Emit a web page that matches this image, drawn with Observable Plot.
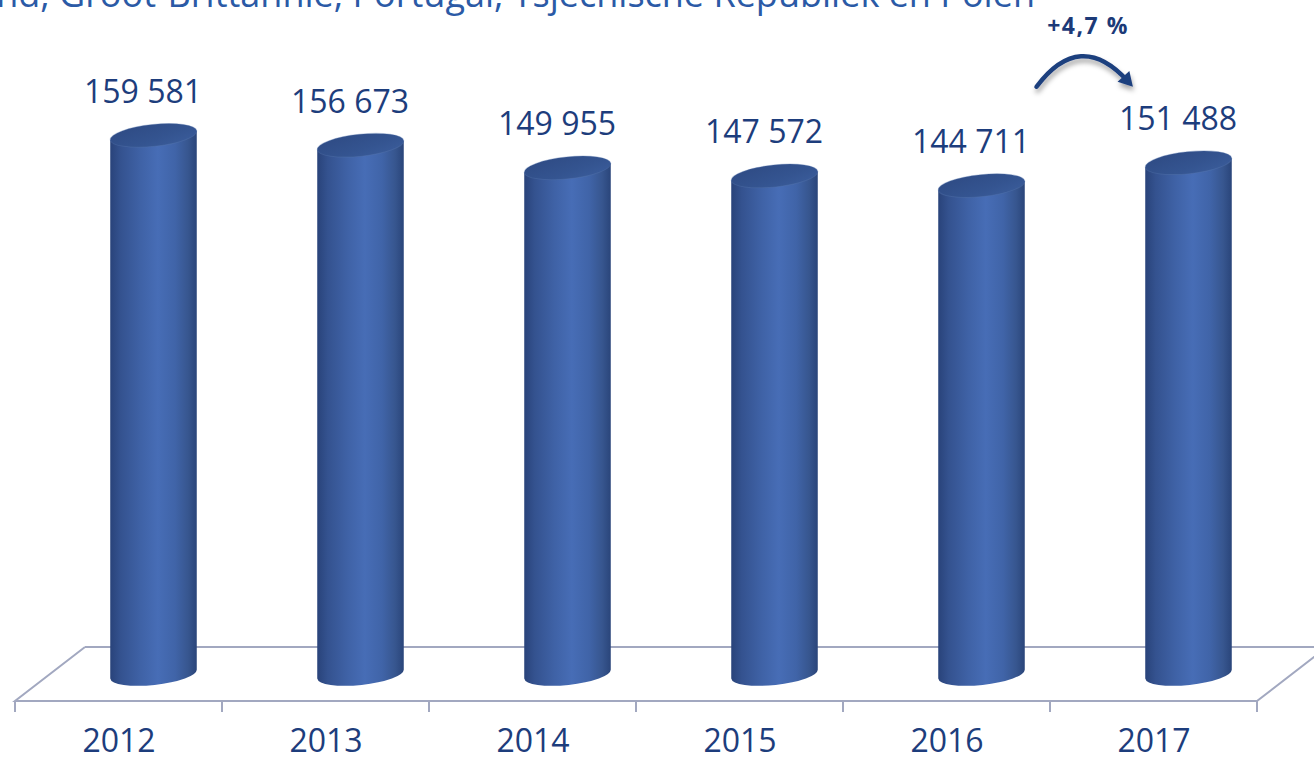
<!DOCTYPE html>
<html><head><meta charset="utf-8">
<script src="https://cdn.jsdelivr.net/npm/d3@7"></script>
<script src="https://cdn.jsdelivr.net/npm/@observablehq/plot@0.6"></script>
<style>
html,body{margin:0;padding:0;background:#fff;overflow:hidden;}
#wrap{position:relative;width:1314px;height:758px;overflow:hidden;background:#fff;}
#title{position:absolute;right:279px;top:-24px;font-family:"Open Sans",sans-serif;font-size:36px;line-height:36px;color:#2b5aa6;white-space:nowrap;z-index:2;}
#chart{position:absolute;left:0;top:0;z-index:1;}
</style></head>
<body><div id="wrap"><div id="chart"></div><div id="title"></div></div>
<script>
const years = ["2012", "2013", "2014", "2015", "2016", "2017"];
const visitors = [159581, 156673, 149955, 147572, 144711, 151488];
const growthLabel = "+4,7 %";
const titleText = "Nederland, Groot-Brittannië, Portugal, Tsjechische Republiek en Polen";

const data = years.map((year, i) => ({year, value: visitors[i]}));
const fmt = v => d3.format(",")(v).replace(/,/g, " ");
document.getElementById("title").textContent = titleText;

const labelColor = "#1d3d7c";
const floorColor = "#a2a8c0";
const depthX = 70, depthY = 54;

function defsMark() {
  const g = d3.create("svg:defs");
  const body = g.append("linearGradient").attr("id", "cylBody").attr("x1", 0).attr("x2", 1).attr("y1", 0).attr("y2", 0);
  [[0, "#29437a"], [0.12, "#34528f"], [0.35, "#3f62a6"], [0.55, "#476db6"], [0.75, "#4064a8"], [0.9, "#37568f"], [1, "#2a457a"]]
    .forEach(([o, c]) => body.append("stop").attr("offset", o).attr("stop-color", c));
  const top = g.append("linearGradient").attr("id", "cylTop").attr("x1", 0).attr("x2", 1).attr("y1", 0).attr("y2", 1);
  [[0, "#2e4a83"], [0.6, "#345490"], [1, "#3b5d9c"]]
    .forEach(([o, c]) => top.append("stop").attr("offset", o).attr("stop-color", c));
  const f = g.append("filter").attr("id", "arrowShadow").attr("x", "-30%").attr("y", "-30%").attr("width", "160%").attr("height", "180%");
  f.append("feDropShadow").attr("dx", 1).attr("dy", 4).attr("stdDeviation", 2.5).attr("flood-color", "#000").attr("flood-opacity", 0.35);
  return g.node();
}

function floorMark(index, scales) {
  const {x, y} = scales;
  const step = x(years[1]) - x(years[0]);
  const left = x(years[0]);
  const right = x(years[years.length - 1]) + step;
  const base = y(0);
  const yFront = base + depthY / 2, yBack = base - depthY / 2;
  const g = d3.create("svg:g").attr("stroke", floorColor).attr("stroke-width", 2).attr("fill", "none");
  g.append("path").attr("d", `M${left + depthX},${yBack}L${right + depthX + 60},${yBack}`);
  g.append("path").attr("d", `M${left + depthX},${yBack}L${left},${yFront}L${right},${yFront}L${right + depthX},${yBack}`);
  const bounds = years.map(yr => x(yr)).concat([right]);
  bounds.forEach(bx => g.append("path").attr("d", `M${bx},${yFront}V${yFront + 11}`));
  return g.node();
}

function cylinderMark(index, scales) {
  const {x, y} = scales;
  const step = x(years[1]) - x(years[0]);
  const rx = 43.5, ry = 11, rot = -6;
  const th = rot * Math.PI / 180;
  const ex = rx * Math.cos(th), ey = rx * Math.sin(th);
  const g = d3.create("svg:g");
  data.forEach(d => {
    const cx = x(d.year) + step / 2 + depthX / 2;
    const cb = y(0);
    const ct = y(d.value);
    const bl = [cx - ex, cb - ey], br = [cx + ex, cb + ey];
    const tl = [cx - ex, ct - ey], tr = [cx + ex, ct + ey];
    g.append("path")
      .attr("d", `M${tl}L${bl}A${rx},${ry},${rot},0,0,${br}L${tr}Z`)
      .attr("fill", "url(#cylBody)");
    g.append("ellipse")
      .attr("cx", cx).attr("cy", ct).attr("rx", rx).attr("ry", ry)
      .attr("transform", `rotate(${rot},${cx},${ct})`)
      .attr("fill", "url(#cylTop)")
      .attr("stroke", "#5a78b0").attr("stroke-opacity", 0.35).attr("stroke-width", 1);
  });
  return g.node();
}

function arrowMark(index, scales) {
  const {x, y} = scales;
  const step = x(years[1]) - x(years[0]);
  const a = x(years[4]) + step / 2;
  const b = x(years[5]) + step / 2;
  const yTop = y(visitors[5]);
  const x0 = a + 90, y0 = yTop - 76;
  const x1 = b - 26, y1 = yTop - 82;
  const cxp = (x0 + x1) / 2 - 2, cyp = yTop - 134;
  const g = d3.create("svg:g");
  const ga = g.append("g").attr("filter", "url(#arrowShadow)");
  ga.append("path")
    .attr("d", `M${x0},${y0}Q${cxp},${cyp},${x1},${y1}`)
    .attr("fill", "none").attr("stroke", "#1f3f7e").attr("stroke-width", 4.5).attr("stroke-linecap", "round");
  const dx = x1 - cxp, dy = y1 - cyp, L = Math.hypot(dx, dy);
  const ux = dx / L, uy = dy / L, px = -uy, py = ux;
  const tip = [x1 + ux * 8, y1 + uy * 8];
  const back = [x1 - ux * 6, y1 - uy * 6];
  const p1 = [back[0] + px * 8, back[1] + py * 8];
  const p2 = [back[0] - px * 8, back[1] - py * 8];
  ga.append("path").attr("d", `M${tip}L${p1}L${p2}Z`).attr("fill", "#1f3f7e");
  g.append("text")
    .attr("x", (x0 + x1) / 2 + 6).attr("y", yTop - 129)
    .attr("text-anchor", "middle")
    .attr("font-size", 23).attr("font-weight", "bold")
    .attr("letter-spacing", 1.5)
    .attr("fill", "#1c3a78")
    .text(growthLabel);
  return g.node();
}

const chart = Plot.plot({
  width: 1314,
  height: 758,
  marginLeft: 13,
  marginRight: 56,
  marginTop: 0,
  marginBottom: 57,
  style: {fontFamily: "'Open Sans', sans-serif", background: "transparent", overflow: "visible"},
  x: {type: "band", domain: years, padding: 0, label: null},
  y: {domain: [0, 160000], range: [674, 134], axis: null},
  marks: [
    defsMark,
    floorMark,
    cylinderMark,
    Plot.text(data, {
      x: "year", y: "value", text: d => fmt(d.value),
      dx: 24, dy: -33, lineAnchor: "bottom",
      fontSize: 32, fill: labelColor
    }),
    Plot.axisX({tickSize: 0, tickPadding: 28, fontSize: 32, color: labelColor, label: null}),
    arrowMark
  ]
});
document.getElementById("chart").appendChild(chart);
</script>
</body></html>
